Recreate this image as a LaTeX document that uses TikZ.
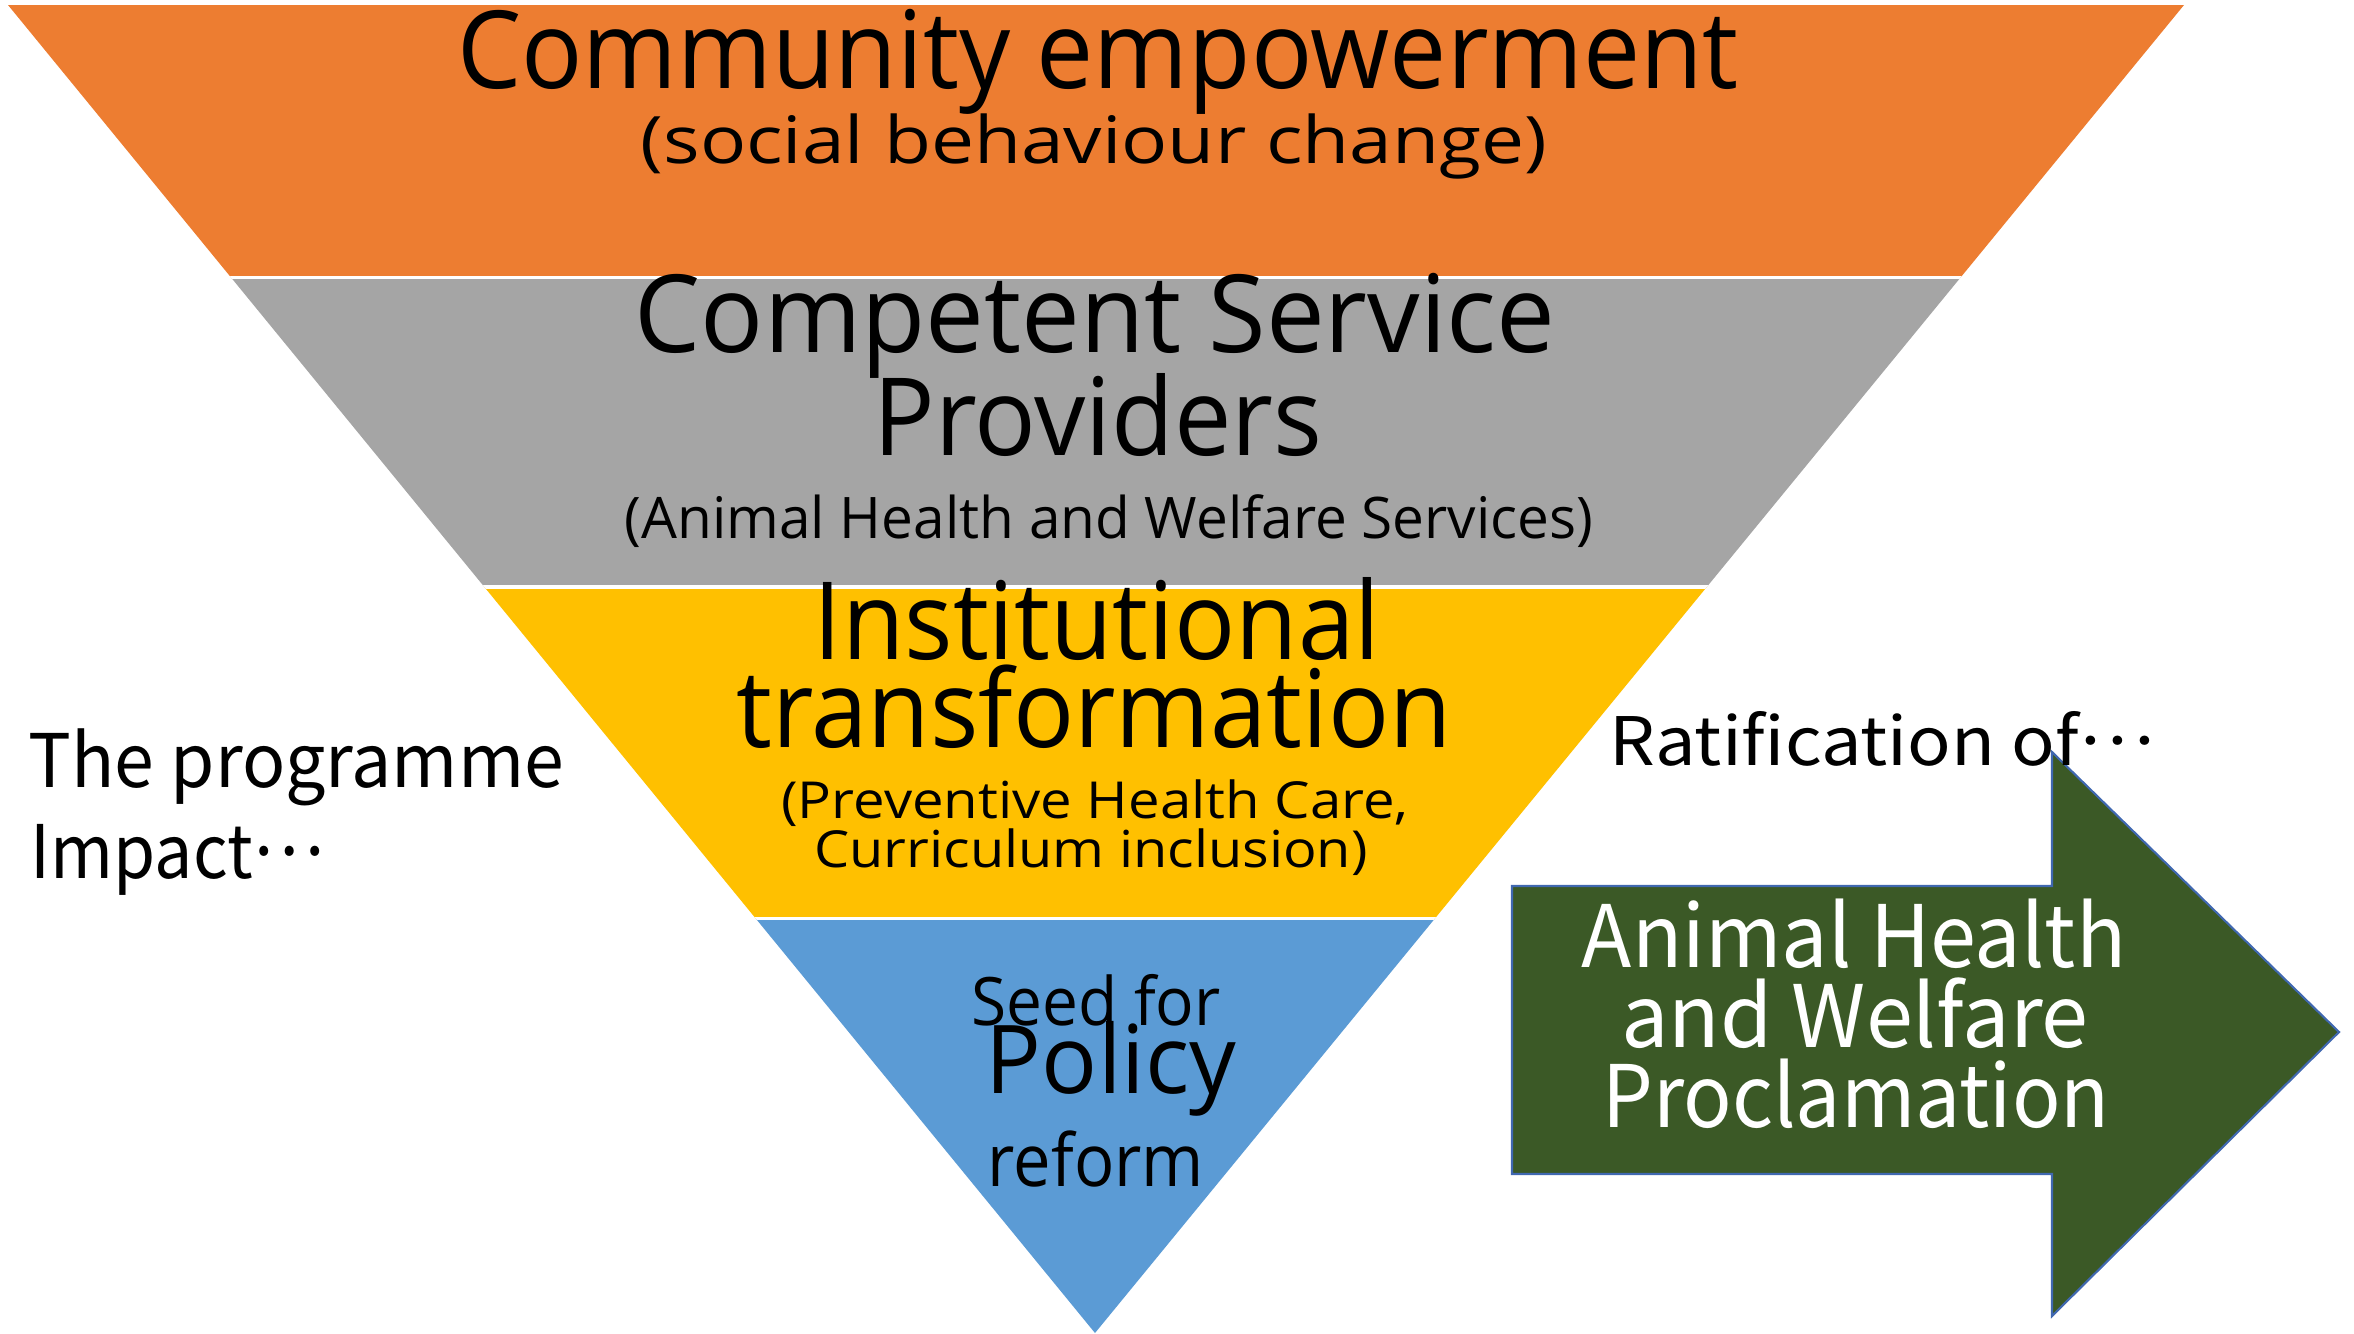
\documentclass[tikz,border=0pt]{standalone}
\usepackage{fontspec}
\usepackage{graphicx}
\setmainfont{Noto Sans CJK JP}
\newfontfamily\segoe{Open Sans}
\definecolor{orangeC}{HTML}{ED7D31}
\definecolor{grayC}{HTML}{A5A5A5}
\definecolor{yellowC}{HTML}{FFC000}
\definecolor{blueC}{HTML}{5B9BD5}
\definecolor{greenC}{HTML}{3B5926}
\definecolor{arrowline}{HTML}{4068B0}
\newlength\natw
\newcommand\fitx[2]{\settowidth\natw{#2}\scalebox{\fpeval{#1*0.01cm/(\the\natw)}}[1]{#2}}
\newcommand\middots{\raisebox{0.3em}{…}}
\tikzset{
  head/.style={anchor=base, inner sep=0pt, font=\segoe\fontsize{30.7}{34}\selectfont},
  light/.style={anchor=base, inner sep=0pt, font=\segoe\fontsize{#1}{#1}\selectfont},
  side/.style={anchor=base west, inner sep=0pt, font=\fontsize{21}{24}\selectfont},
  arrowtxt/.style={anchor=base, inner sep=0pt, text=white, font=\fontsize{24.5}{28}\selectfont},
  sep/.style={white, line width=0.9pt}
}
\begin{document}
\begin{tikzpicture}[x=0.01cm,y=-0.01cm]
\useasboundingbox (0,0) rectangle (2354,1333);
\coordinate (TL) at (8,5);
\coordinate (TR) at (2184,5);
\coordinate (AP) at (1095,1333);
\begin{scope}
  \clip (TL) -- (TR) -- (AP) -- cycle;
  \fill[orangeC] (0,0) rectangle (2354,277.5);
  \fill[grayC] (0,277.5) rectangle (2354,587);
  \fill[yellowC] (0,587) rectangle (2354,918.5);
  \fill[blueC] (0,918.5) rectangle (2354,1340);
  \draw[sep] (0,277.5) -- (2354,277.5);
  \draw[sep] (0,587) -- (2354,587);
  \draw[sep] (0,918.5) -- (2354,918.5);
\end{scope}
% arrow
\draw[fill=greenC, draw=arrowline, line width=0.6pt]
  (1512,886) -- (2052,886) -- (2052,752) -- (2339,1032) -- (2052,1316) -- (2052,1174) -- (1512,1174) -- cycle;
% triangle texts
\node[head] (t1) at (1098,88) {\fitx{1281}{Community empowerment}};
\node[light=18.6] (t2) at (1094,163) {\fitx{906}{(social behaviour change)}};
\node[head] (t3) at (1095,352) {\fitx{920}{Competent Service}};
\node[head] (t4) at (1098,455) {\fitx{449}{Providers}};
\node[light=16.3] (t5) at (1109,538) {\fitx{968}{(Animal Health and Welfare Services)}};
\node[head] (t6) at (1097,659) {\fitx{566}{Institutional}};
\node[head] (t7) at (1094,747) {\fitx{715}{transformation}};
\node[light=14.5] (t8) at (1095,818) {\fitx{627}{(Preventive Health Care,}};
\node[light=14.5] (t9) at (1091,867) {\fitx{553}{Curriculum inclusion)}};
\node[light=19] (t10) at (1096,1025) {\fitx{249}{Seed for}};
\node[head, font=\segoe\fontsize{27}{30}\selectfont] (t11) at (1111,1093) {\fitx{250}{Policy}};
\node[head, font=\segoe\fontsize{20.7}{24}\selectfont] (t12) at (1096,1186) {\fitx{216}{reform}};
% side texts
\node[side] (s1) at (28,787) {\fitx{535}{The programme}};
\node[side] (s2) at (30,878) {\fitx{294}{Impact\middots}};
\node[side, font=\fontsize{19}{22}\selectfont] (s3) at (1609,765) {\fitx{545}{Ratification of\middots}};
% arrow texts
\node[arrowtxt] (a1) at (1854,967) {\fitx{544}{Animal Health}};
\node[arrowtxt] (a2) at (1855,1047) {\fitx{467}{and Welfare}};
\node[arrowtxt] (a3) at (1856,1127) {\fitx{507}{Proclamation}};
\end{tikzpicture}
\end{document}
